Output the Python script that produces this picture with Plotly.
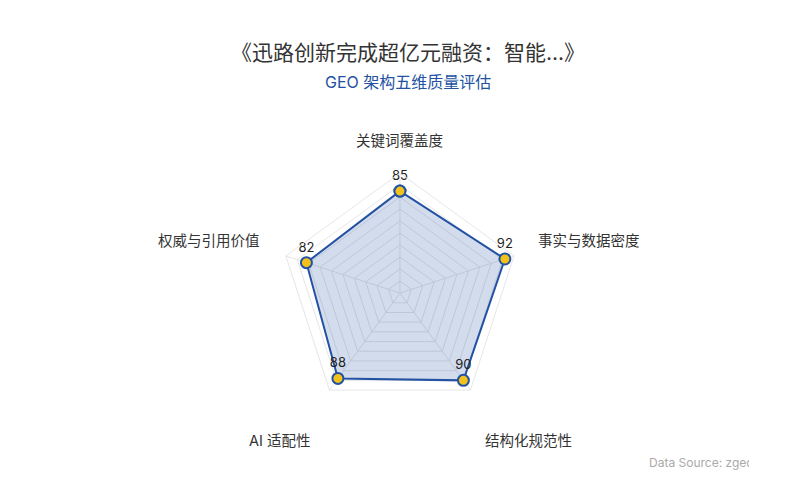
import plotly.graph_objects as go

# data
dimensions = ["关键词覆盖度", "事实与数据密度", "结构化规范性", "AI 适配性", "权威与引用价值"]
scores = [85, 92, 90, 88, 82]

title_text = "《迅路创新完成超亿元融资：智能...》"
subtitle_text = "GEO 架构五维质量评估"
source_text = "Data Source: zgeo.ai"

BLUE = "#2452a3"
FONT = "Inter, Noto Sans CJK SC, sans-serif"

# where the axis names sit (paper coords, anchor) - placed like the original radar names
name_pos = [(0.4872, 0.9055, "center"), (0.683, 0.6115, "left"), (0.6067, 0.0235, "left"),
            (0.3626, 0.0235, "right"), (0.2914, 0.6115, "right")]

# close the polygon
r_vals = scores + scores[:1]
theta_vals = dimensions + dimensions[:1]
labels = [str(s) for s in scores] + [""]

fig = go.Figure()
fig.add_trace(go.Scatterpolar(
    r=r_vals, theta=theta_vals,
    mode="lines+markers+text",
    fill="toself",
    fillcolor="rgba(36,82,163,0.2)",
    line=dict(color=BLUE, width=2),
    marker=dict(size=11, color="#f2c21b", line=dict(color=BLUE, width=2)),
    text=labels, textposition="top center",
    textfont=dict(size=13, color="#222"),
    hoverinfo="skip",
    showlegend=False,
))

annos = [
    dict(text=subtitle_text, xref="paper", yref="paper", x=0.5, y=1.056 + 7 / 340,
         xanchor="center", yanchor="middle", showarrow=False,
         font=dict(size=16, color=BLUE)),
    dict(text=source_text, xref="paper", yref="paper", x=0.99, y=-0.0415,
         xanchor="right", yanchor="middle", showarrow=False, width=100, align="left",
         font=dict(size=12, color="#aaa")),
]
for name, (px, py, anc) in zip(dimensions, name_pos):
    annos.append(dict(text=name, xref="paper", yref="paper", x=px, y=py,
                      xanchor=anc, yanchor="middle", showarrow=False,
                      font=dict(size=14.5, color="#333")))

fig.update_layout(
    width=800, height=500,
    paper_bgcolor="white",
    font=dict(family=FONT, color="#333"),
    margin=dict(l=50, r=50, t=100, b=60),
    title=dict(text=title_text, x=0.5, xanchor="center", y=0.91, yanchor="middle",
               font=dict(size=21, color="#333")),
    polar=dict(
        domain=dict(x=[0, 0.977], y=[0.103, 0.8085]),
        bgcolor="white",
        gridshape="linear",
        radialaxis=dict(range=[0, 100], dtick=10, showticklabels=False, ticks="",
                        showline=False, gridcolor="#e6e6e6", gridwidth=1),
        angularaxis=dict(direction="clockwise", rotation=90,
                         showticklabels=False, ticks="",
                         showline=True, linecolor="#e6e6e6", gridcolor="#e6e6e6"),
    ),
    annotations=annos,
)

fig.write_html("out.html")
